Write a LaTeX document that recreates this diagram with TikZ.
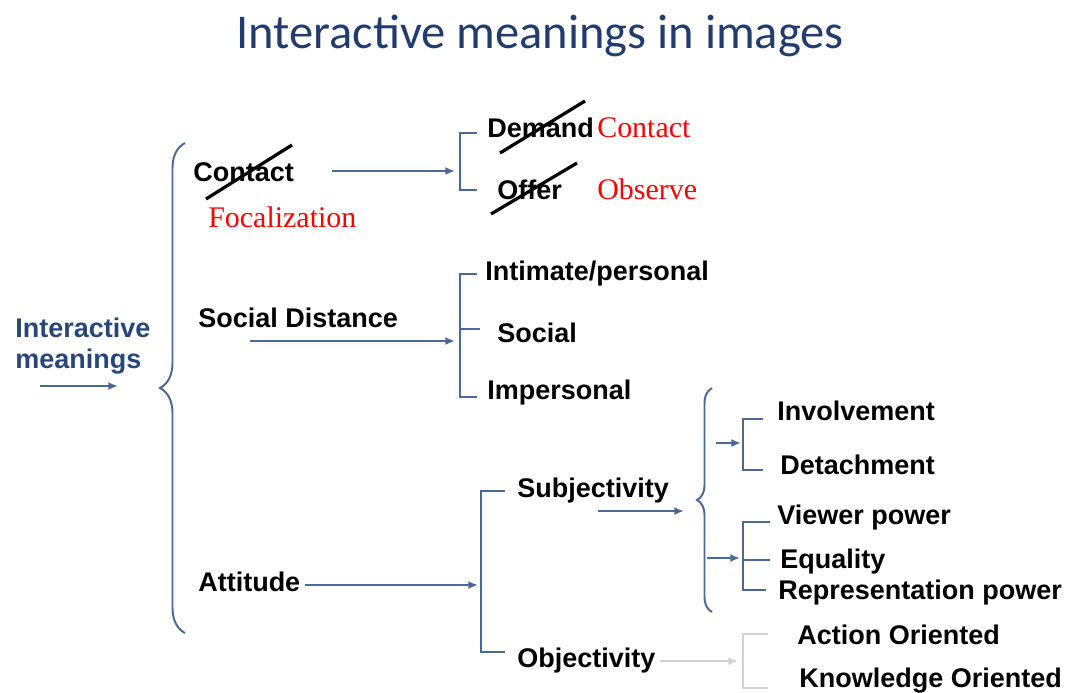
\documentclass[tikz,border=0pt]{standalone}
\usepackage{fontspec}
\setsansfont{Liberation Sans}
\newfontfamily\titlefont{Carlito}
\newfontfamily\redfont{Liberation Serif}
\usetikzlibrary{shapes,arrows,arrows.meta,calc,positioning}
\usetikzlibrary{decorations.pathreplacing}
\definecolor{titleblue}{RGB}{35,60,110}
\definecolor{labelblue}{RGB}{40,70,120}
\definecolor{linkblue}{RGB}{75,105,150}
\definecolor{fadegrey}{RGB}{210,210,210}

\begin{document}
\begin{tikzpicture}[x=0.025cm,y=-0.025cm]

  \tikzstyle{lbl} = [anchor=base west,inner sep=0pt,font=\fontsize{19.2}{22}\sffamily\bfseries]
  \tikzstyle{redlbl} = [anchor=base west,inner sep=0pt,text=red,font=\fontsize{21.3}{24}\redfont]
  \tikzstyle{bracket} = [draw=linkblue,line width=1.4pt]
  \tikzstyle{link} = [draw=linkblue,line width=1.4pt,-{Latex[length=0.24cm,width=0.2cm]}]
  \tikzstyle{strike} = [draw=black,line width=2.3pt]

  \useasboundingbox (0,0) rectangle (1069,692);

  \node[anchor=base,inner sep=0pt,text=titleblue,font=\fontsize{34.5}{40}\titlefont] (title) at (540,48) {Interactive meanings in images};

  \node[lbl,text=labelblue] (inter) at (15,337) {Interactive};
  \node[lbl,text=labelblue] (mean) at (15,368) {meanings};
  \coordinate (inA) at (40,386);
  \coordinate (inB) at (118,386);
  \draw[link] (inA) -- (inB);

  \draw [bracket,decorate,decoration={brace,amplitude=0.625cm}] (185,633) -- (185,143);


  % contact
  \node[lbl] (contact) at (193,181) {Contact};
  \node[redlbl] (focal) at (208,227) {Focalization};
  \coordinate (ctA) at (332,171);
  \coordinate (ctB) at (455,171);
  \draw[link] (ctA) -- (ctB);
  \draw[bracket] (477,133) -- (460,133) -- (460,190) -- (477,190);

  \node[lbl] (demand) at (487,137) {Demand};
  \node[redlbl] (contactR) at (597,137) {Contact};
  \node[lbl] (offer) at (497,199) {Offer};
  \node[redlbl] (observe) at (597,199) {Observe};

  \draw[strike] (206,199) -- (292,145);
  \draw[strike] (500,153) -- (585,101);
  \draw[strike] (491,214) -- (577,163);


  % social distance
  \node[lbl] (socdist) at (198,327) {Social Distance};
  \coordinate (sdA) at (250,341);
  \coordinate (sdB) at (455,341);
  \draw[link] (sdA) -- (sdB);
  \draw[bracket] (477,274) -- (460,274) -- (460,397) -- (477,397);
  \draw[bracket] (460,329) -- (480,329);


  % attitude
  \node[lbl] (attitude) at (198,591) {Attitude};
  \coordinate (atA) at (305,585);
  \coordinate (atB) at (478,585);
  \draw[link] (atA) -- (atB);
  \draw[bracket] (505,491) -- (481,491) -- (481,652) -- (505,652);

  \node[lbl] (subj) at (517,497) {Subjectivity};
  \node[lbl] (obj) at (517,667) {Objectivity};

  \coordinate (sbA) at (598,511);
  \coordinate (sbB) at (684,511);
  \draw[link] (sbA) -- (sbB);
  \draw [bracket,decorate,decoration={brace,amplitude=0.375cm}] (712,612) -- (712,388);

  \coordinate (ivA) at (716,443);
  \coordinate (ivB) at (741,443);
  \draw[link] (ivA) -- (ivB);
  \draw[bracket] (763,419) -- (743,419) -- (743,470) -- (763,470);

  \coordinate (vpA) at (707,558);
  \coordinate (vpB) at (740,558);
  \draw[link] (vpA) -- (vpB);
  \draw[bracket] (770,522) -- (743,522) -- (743,590) -- (766,590);
  \draw[bracket] (743,560) -- (770,560);

  \coordinate (obA) at (660,661);
  \coordinate (obB) at (738,661);
  \draw[link,draw=fadegrey] (obA) -- (obB);
  \draw[bracket,draw=fadegrey] (768,634) -- (743,634) -- (743,688) -- (768,688);


  \foreach \nm/\x/\y/\txt in {intim/485/280/{Intimate/personal},social/497/342/Social,imper/487/399/Impersonal,
    invol/777/420/Involvement,detach/780/474/Detachment,viewer/777/524/Viewer power,
    equal/780/568/Equality,repr/778/599/Representation power,
    action/797/644/Action Oriented,know/799/687/Knowledge Oriented} {
    \node[lbl] (\nm) at (\x,\y) {\txt};
  }

\end{tikzpicture}
\end{document}
